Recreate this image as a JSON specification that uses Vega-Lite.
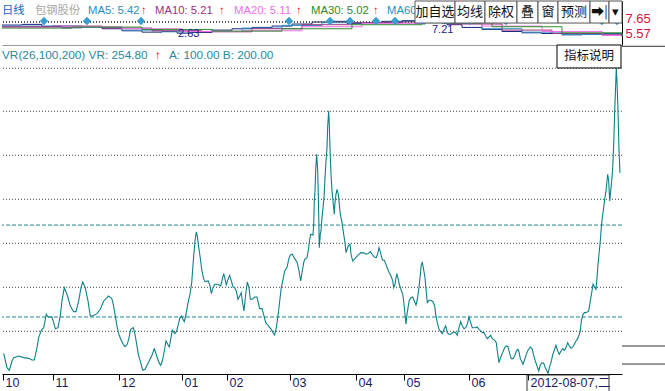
{
  "$schema": "https://vega.github.io/schema/vega-lite/v6.json",
  "padding": 0,
  "autosize": {"type": "pad"},
  "spacing": 0,
  "bounds": "flush",
  "background": "white",
  "config": {
    "view": {"stroke": null},
    "font": "Liberation Sans, Noto Sans CJK SC",
    "axis": {"labelFont": "Liberation Sans, Noto Sans CJK SC", "grid": false, "title": null}
  },
  "datasets": {
    "vr": [
      {"x":1.7,"y":60.9},{"x":5,"y":45.2},{"x":7.3,"y":42.3},{"x":10,"y":52.5},{"x":11.7,"y":56.2},{"x":16.7,"y":58.0},{"x":21.7,"y":56.2},{"x":26.7,"y":55.4},{"x":30,"y":53.6},{"x":32.3,"y":53.6},{"x":35,"y":67.1},{"x":36.7,"y":78.0},{"x":39.3,"y":86.0},{"x":41.7,"y":88.9},{"x":43.3,"y":98.0},{"x":44.3,"y":103.5},{"x":46,"y":100.6},{"x":50,"y":100.6},{"x":51.7,"y":94.4},{"x":53.3,"y":87.8},{"x":56,"y":88.9},{"x":58.3,"y":101.7},{"x":60,"y":118.1},{"x":62.3,"y":132.6},{"x":65,"y":125.4},{"x":68.3,"y":112.6},{"x":71.7,"y":106.4},{"x":74,"y":106.4},{"x":76.7,"y":118.1},{"x":79,"y":132.6},{"x":80.7,"y":138.8},{"x":83.3,"y":132.6},{"x":86,"y":118.1},{"x":88.3,"y":101.7},{"x":90.7,"y":101.7},{"x":95,"y":104.2},{"x":98.3,"y":109.0},{"x":101.7,"y":118.1},{"x":105,"y":121.7},
      {"x":106.3,"y":123.5},{"x":109.7,"y":121.0},{"x":111.3,"y":114.4},{"x":113,"y":103.5},{"x":114.7,"y":92.6},{"x":116.3,"y":83.5},{"x":118.7,"y":76.2},{"x":121.3,"y":70.7},{"x":123,"y":68.2},{"x":125.3,"y":70.7},{"x":127,"y":78.0},{"x":128.7,"y":87.1},{"x":131.3,"y":88.9},{"x":133,"y":81.7},{"x":134.7,"y":70.7},{"x":136.3,"y":59.8},{"x":138.7,"y":50.7},{"x":140.7,"y":42.3},{"x":143,"y":43.4},{"x":146.3,"y":50.7},{"x":149.7,"y":58.0},{"x":152.3,"y":66.0},{"x":154.7,"y":58.0},{"x":157,"y":50.7},{"x":158.7,"y":47.8},{"x":160.3,"y":52.5},{"x":162.3,"y":63.4},{"x":164,"y":74.4},{"x":165.7,"y":70.7},{"x":167.3,"y":67.8},{"x":169,"y":78.0},{"x":170.3,"y":86.0},{"x":173,"y":82.4},{"x":174.7,"y":85.3},{"x":176.3,"y":92.6},{"x":178,"y":99.9},{"x":179.7,"y":101.7},{"x":181.3,"y":97.0},{"x":182.3,"y":95.5},{"x":184,"y":103.5},{"x":185.7,"y":114.4},{"x":188,"y":125.4},{"x":189.7,"y":138.1},{"x":191.3,"y":161.8},{"x":193,"y":183.6},{"x":194.3,"y":193.5},{"x":195.3,"y":189.1},{"x":196.3,"y":180.0},{"x":198,"y":167.2},{"x":199.7,"y":152.7},{"x":201.3,"y":143.6},{"x":203,"y":139.2},{"x":206.3,"y":140.0},{"x":208,"y":134.5},
      {"x":209.3,"y":126.1},{"x":211,"y":132.6},{"x":212.7,"y":136.3},{"x":216,"y":136.3},{"x":218.7,"y":134.5},{"x":220.3,"y":141.7},{"x":221.7,"y":147.9},{"x":222.7,"y":143.6},{"x":224.3,"y":135.6},{"x":226,"y":141.7},{"x":227.7,"y":146.1},{"x":229.3,"y":140.0},{"x":231,"y":133.4},{"x":232.7,"y":132.6},{"x":234.3,"y":129.0},{"x":236,"y":119.9},{"x":237.7,"y":123.5},{"x":239.3,"y":127.2},{"x":240.3,"y":118.1},{"x":242,"y":107.1},{"x":243.7,"y":125.4},{"x":245.3,"y":138.8},{"x":247,"y":132.6},{"x":248.3,"y":119.9},{"x":250.3,"y":119.9},{"x":252.7,"y":122.4},{"x":255,"y":122.4},{"x":256.7,"y":114.4},{"x":257.7,"y":109.7},{"x":260,"y":109.7},{"x":262,"y":101.7},{"x":263.7,"y":94.4},{"x":265.3,"y":92.6},{"x":267.7,"y":88.9},{"x":269.3,"y":87.1},{"x":271,"y":83.5},{"x":272.7,"y":80.9},{"x":274.3,"y":88.9},{"x":276,"y":101.7},{"x":277.7,"y":118.1},{"x":279.3,"y":132.6},{"x":281,"y":141.7},{"x":282.7,"y":150.9},{"x":285,"y":154.5},{"x":286.7,"y":163.6},{"x":288.3,"y":168.3},{"x":290.3,"y":169.1},{"x":292.7,"y":164.3},{"x":295,"y":160.7},{"x":296.7,"y":152.7},{"x":298.7,"y":140.0},{"x":300.3,"y":150.9},{"x":301.7,"y":160.0},{"x":302.7,"y":163.6},{"x":305,"y":165.4},{"x":306.7,"y":176.3},{"x":307.7,"y":185.5},{"x":308.7,"y":190.9},{"x":311,"y":190.2},
      {"x":311.7,"y":201.8},{"x":312.3,"y":227.3},{"x":313,"y":238.3},{"x":313.7,"y":261.9},{"x":314.7,"y":278.3},{"x":315.7,"y":260.1},{"x":316.3,"y":234.6},{"x":317.3,"y":176.3},{"x":318.3,"y":190.9},{"x":319,"y":194.6},{"x":320,"y":209.1},{"x":321,"y":220.1},{"x":322,"y":231.0},{"x":323,"y":252.8},{"x":324,"y":271.0},{"x":325,"y":285.6},{"x":325.7,"y":309.3},{"x":326.7,"y":325.7},{"x":327.3,"y":311.1},{"x":328,"y":283.8},{"x":329,"y":256.5},{"x":330,"y":238.3},{"x":331.3,"y":223.7},{"x":332.3,"y":212.8},{"x":333,"y":225.5},{"x":334,"y":234.6},{"x":335,"y":240.1},{"x":336.3,"y":234.6},{"x":337.3,"y":223.7},{"x":338.3,"y":212.8},{"x":339.7,"y":205.5},{"x":340.7,"y":198.2},{"x":341.7,"y":190.9},{"x":343,"y":181.8},{"x":344,"y":170.9},{"x":345,"y":174.5},{"x":346.3,"y":178.2},{"x":348,"y":180.0},{"x":349,"y":169.1},{"x":350.7,"y":161.8},{"x":352.3,"y":163.6},{"x":355.7,"y":168.0},{"x":359,"y":170.9},{"x":362.3,"y":170.5},{"x":364,"y":169.1},{"x":366.3,"y":169.8},{"x":368.3,"y":172.0},{"x":370.7,"y":168.3},{"x":372.3,"y":166.1},{"x":374.3,"y":165.4},{"x":375.7,"y":169.8},{"x":377,"y":176.3},{"x":378.3,"y":172.0},{"x":379.7,"y":165.4},{"x":380.7,"y":162.5},{"x":382.3,"y":162.5},{"x":384,"y":158.1},{"x":385.7,"y":152.7},{"x":387.3,"y":149.0},{"x":389,"y":145.4},{"x":390.7,"y":140.0},{"x":391.7,"y":132.6},{"x":393,"y":136.3},{"x":394,"y":143.6},{"x":395,"y":147.2},{"x":396.3,"y":141.7},{"x":397.3,"y":136.3},{"x":399,"y":130.8},{"x":400.7,"y":125.4},{"x":401.7,"y":118.1},{"x":403,"y":103.5},{"x":404,"y":92.6},{"x":405,"y":103.5},{"x":406.3,"y":112.6},{"x":407.3,"y":118.8},{"x":409,"y":121.7},{"x":410.7,"y":122.4},{"x":412.3,"y":118.1},{"x":414,"y":113.7},
      {"x":415.3,"y":119.9},{"x":417,"y":132.6},{"x":418,"y":143.6},{"x":419.3,"y":158.1},{"x":420.3,"y":160.0},{"x":421.3,"y":154.5},{"x":423,"y":143.6},{"x":424,"y":130.8},{"x":425.3,"y":116.3},{"x":427,"y":118.8},{"x":428.7,"y":118.8},{"x":431,"y":117.3},{"x":432.7,"y":112.6},{"x":433.7,"y":103.5},{"x":435.3,"y":94.4},{"x":437,"y":87.1},{"x":438.7,"y":84.6},{"x":440.3,"y":82.4},{"x":442,"y":87.1},{"x":443.7,"y":90.8},{"x":445.3,"y":83.5},{"x":447,"y":81.7},{"x":448.7,"y":81.7},{"x":450.3,"y":83.1},{"x":452,"y":84.2},{"x":453.7,"y":83.5},{"x":455.3,"y":80.6},{"x":457,"y":88.9},{"x":458.7,"y":95.5},{"x":460.3,"y":90.8},{"x":462,"y":87.8},{"x":463.7,"y":88.9},{"x":465.3,"y":92.6},{"x":467,"y":100.6},{"x":468.7,"y":94.4},{"x":470.3,"y":88.9},{"x":472.7,"y":88.9},{"x":475.3,"y":89.7},{"x":477,"y":87.1},{"x":478.7,"y":85.3},{"x":480.3,"y":83.5},{"x":482,"y":83.5},{"x":483.7,"y":79.8},{"x":485.3,"y":76.9},{"x":487,"y":78.7},{"x":488.7,"y":80.6},{"x":490.3,"y":76.9},{"x":492.7,"y":75.1},{"x":494.3,"y":72.6},{"x":495.3,"y":63.4},{"x":497,"y":50.7},{"x":498,"y":54.3},{"x":499.3,"y":58.0},{"x":501,"y":62.7},{"x":502.7,"y":67.1},{"x":504.3,"y":68.9},{"x":506,"y":68.2},{"x":507.7,"y":60.5},{"x":509.3,"y":55.1},{"x":511,"y":55.1},{"x":512.7,"y":58.0},{"x":514.3,"y":63.4},{"x":516,"y":65.3},{"x":517,"y":62.7},
      {"x":518.3,"y":55.1},{"x":521,"y":48.9},{"x":522.7,"y":54.3},{"x":524.3,"y":59.8},{"x":526,"y":64.2},{"x":528.3,"y":67.8},{"x":530,"y":66.0},{"x":531.7,"y":58.7},{"x":533.3,"y":52.5},{"x":535,"y":47.1},{"x":536.7,"y":41.6},{"x":538.3,"y":48.1},{"x":540,"y":50.7},{"x":541.7,"y":50.0},{"x":543.3,"y":45.2},{"x":545,"y":41.6},{"x":546,"y":38.7},{"x":547.3,"y":45.2},{"x":549,"y":50.7},{"x":550.7,"y":59.1},{"x":552.3,"y":64.2},{"x":554,"y":69.6},{"x":555.7,"y":63.4},{"x":557.3,"y":59.8},{"x":559,"y":63.4},{"x":560.7,"y":66.0},{"x":562.3,"y":64.2},{"x":564,"y":67.1},{"x":565.7,"y":72.6},{"x":567.3,"y":68.9},{"x":569,"y":66.4},{"x":570.7,"y":67.8},{"x":572.3,"y":70.7},{"x":574,"y":74.4},{"x":575.7,"y":76.9},{"x":577.3,"y":81.7},{"x":578.3,"y":85.3},{"x":579.3,"y":96.2},{"x":580.7,"y":102.4},{"x":582.3,"y":105.3},{"x":584,"y":105.3},{"x":586.7,"y":107.1},{"x":588.3,"y":118.1},{"x":590,"y":129.0},{"x":591,"y":136.3},{"x":592.3,"y":133.7},{"x":594,"y":130.8},{"x":595,"y":143.6},{"x":596,"y":158.1},{"x":597.3,"y":172.7},{"x":598.3,"y":183.6},{"x":599.3,"y":198.2},{"x":600.3,"y":209.1},{"x":601.7,"y":220.1},{"x":602.7,"y":229.2},{"x":604,"y":238.3},{"x":605,"y":249.2},{"x":605.7,"y":256.5},{"x":606.7,"y":249.2},{"x":607.7,"y":227.3},{"x":608.7,"y":238.3},{"x":610,"y":252.8},{"x":610.7,"y":263.8},{"x":611.7,"y":289.2},{"x":612.7,"y":325.7},{"x":613.7,"y":354.8},{"x":614.3,"y":372.28},{"x":615,"y":358.4},{"x":616,"y":325.7},{"x":617,"y":282.0},{"x":618,"y":258.0}
    ],
    "grid": [{"y":372.28},{"y":325.30},{"y":277.22},{"y":229.15},{"y":181.08},{"y":133.00},{"y":84.93}],
    "lvl": [{"y":100.6},{"y":201.0}],
    "sep": [{"x":620,"x2":665,"y":68.9},{"x":620,"x2":665,"y":49.2},{"x":620,"x2":665,"y":396.3}],
    "vrhdr": [
      {"x":0,"y":386.8,"t":"VR(26,100,200) VR: 254.80","k":"vr"},
      {"x":153,"y":386.8,"t":"↑","k":"up"},
      {"x":167,"y":386.8,"t":"A: 100.00 B: 200.00","k":"vr"}
    ],
    "expl": [{"x":555,"x2":619,"y":397.7,"y2":372.6,"t":"指标说明"}],
    "datebox": [{"x":525,"x2":607,"y":37.2,"y2":17.5}],
    "px": [
      {"x":0,"y":6.75,"k":"k"},{"x":20,"y":6.85,"k":"k"},{"x":40,"y":6.55,"k":"k"},{"x":60,"y":6.35,"k":"k"},{"x":80,"y":6.45,"k":"k"},{"x":100,"y":6.2,"k":"k"},{"x":120,"y":5.9,"k":"k"},{"x":140,"y":5.7,"k":"k"},{"x":160,"y":5.8,"k":"k"},{"x":175,"y":5.55,"k":"k"},{"x":190,"y":5.65,"k":"k"},{"x":210,"y":6.0,"k":"k"},{"x":230,"y":6.2,"k":"k"},{"x":250,"y":6.4,"k":"k"},{"x":270,"y":6.6,"k":"k"},{"x":290,"y":6.9,"k":"k"},{"x":310,"y":7.2,"k":"k"},{"x":330,"y":7.3,"k":"k"},{"x":345,"y":7.0,"k":"k"},{"x":360,"y":7.1,"k":"k"},{"x":380,"y":7.3,"k":"k"},{"x":400,"y":7.4,"k":"k"},{"x":415,"y":7.6,"k":"k"},{"x":430,"y":7.2,"k":"k"},{"x":445,"y":6.8,"k":"k"},{"x":460,"y":6.4,"k":"k"},{"x":480,"y":6.1,"k":"k"},{"x":500,"y":5.8,"k":"k"},{"x":520,"y":5.6,"k":"k"},{"x":540,"y":5.5,"k":"k"},{"x":560,"y":5.3,"k":"k"},{"x":580,"y":5.4,"k":"k"},{"x":600,"y":5.5,"k":"k"},{"x":620,"y":5.45,"k":"k"},
      {"x":0,"y":6.6,"k":"ma5"},{"x":40,"y":6.6,"k":"ma5"},{"x":80,"y":6.4,"k":"ma5"},{"x":120,"y":6.0,"k":"ma5"},{"x":160,"y":5.75,"k":"ma5"},{"x":200,"y":5.8,"k":"ma5"},{"x":240,"y":6.3,"k":"ma5"},{"x":280,"y":6.7,"k":"ma5"},{"x":320,"y":7.1,"k":"ma5"},{"x":360,"y":7.1,"k":"ma5"},{"x":400,"y":7.3,"k":"ma5"},{"x":440,"y":7.0,"k":"ma5"},{"x":480,"y":6.2,"k":"ma5"},{"x":520,"y":5.7,"k":"ma5"},{"x":560,"y":5.35,"k":"ma5"},{"x":600,"y":5.42,"k":"ma5"},{"x":620,"y":5.42,"k":"ma5"},
      {"x":0,"y":6.5,"k":"ma10"},{"x":50,"y":6.6,"k":"ma10"},{"x":100,"y":6.3,"k":"ma10"},{"x":150,"y":5.9,"k":"ma10"},{"x":200,"y":5.75,"k":"ma10"},{"x":250,"y":6.2,"k":"ma10"},{"x":300,"y":6.8,"k":"ma10"},{"x":350,"y":7.1,"k":"ma10"},{"x":400,"y":7.2,"k":"ma10"},{"x":450,"y":6.9,"k":"ma10"},{"x":500,"y":6.0,"k":"ma10"},{"x":550,"y":5.5,"k":"ma10"},{"x":600,"y":5.3,"k":"ma10"},{"x":620,"y":5.21,"k":"ma10"},
      {"x":0,"y":6.4,"k":"ma20"},{"x":60,"y":6.5,"k":"ma20"},{"x":120,"y":6.2,"k":"ma20"},{"x":180,"y":5.8,"k":"ma20"},{"x":240,"y":5.9,"k":"ma20"},{"x":300,"y":6.5,"k":"ma20"},{"x":360,"y":7.0,"k":"ma20"},{"x":420,"y":7.2,"k":"ma20"},{"x":480,"y":6.6,"k":"ma20"},{"x":540,"y":5.8,"k":"ma20"},{"x":600,"y":5.2,"k":"ma20"},{"x":620,"y":5.11,"k":"ma20"},
      {"x":0,"y":6.3,"k":"ma30"},{"x":70,"y":6.45,"k":"ma30"},{"x":140,"y":6.1,"k":"ma30"},{"x":210,"y":5.85,"k":"ma30"},{"x":280,"y":6.2,"k":"ma30"},{"x":350,"y":6.8,"k":"ma30"},{"x":420,"y":7.1,"k":"ma30"},{"x":490,"y":6.5,"k":"ma30"},{"x":560,"y":5.6,"k":"ma30"},{"x":620,"y":5.02,"k":"ma30"}
    ],
    "dia": [{"x":42,"y":7.35},{"x":85,"y":7.35},{"x":139,"y":7.35},{"x":287,"y":7.35},{"x":328,"y":7.35},{"x":348,"y":7.35},{"x":374,"y":7.35},{"x":393,"y":7.35},{"x":422,"y":7.35},{"x":468,"y":7.35},{"x":504,"y":7.35},{"x":600,"y":7.35},{"x":615,"y":7.35}],
    "mark": [{"x":176,"y":5.35,"t":"2.63"},{"x":430,"y":6.0,"t":"7.21"}],
    "hdr": [
      {"x":0,"y":8.83,"t":"日线","k":"day"},
      {"x":33,"y":8.83,"t":"包钢股份","k":"name"},
      {"x":86,"y":8.83,"t":"MA5: 5.42","k":"ma5"},
      {"x":139,"y":8.83,"t":"↑","k":"up"},
      {"x":153,"y":8.83,"t":"MA10: 5.21","k":"ma10"},
      {"x":217,"y":8.83,"t":"↑","k":"up"},
      {"x":232,"y":8.83,"t":"MA20: 5.11","k":"ma20"},
      {"x":294,"y":8.83,"t":"↑","k":"up"},
      {"x":309,"y":8.83,"t":"MA30: 5.02","k":"ma30"},
      {"x":371,"y":8.83,"t":"↑","k":"up"},
      {"x":385,"y":8.83,"t":"MA60","k":"ma5"}
    ],
    "btn": [
      {"x":413,"x2":453,"t":"加自选"},
      {"x":453,"x2":483,"t":"均线"},
      {"x":483,"x2":515,"t":"除权"},
      {"x":515,"x2":536,"t":"叠"},
      {"x":536,"x2":556,"t":"窗"},
      {"x":556,"x2":588,"t":"预测"},
      {"x":588,"x2":607,"t":"➡|"},
      {"x":607,"x2":620,"t":"▾"}
    ]
  },
  "vconcat": [
    {
      "width": 620,
      "height": 44,
      "layer": [
        {
          "data": {"name": "px"},
          "mark": {"type": "line", "strokeWidth": 1, "interpolate": "step-after"},
          "encoding": {
            "x": {"field": "x", "type": "quantitative", "scale": {"domain": [0, 620]}, "axis": {"orient": "bottom", "labels": false, "ticks": false, "domainColor": "#9a9a9a", "title": null}},
            "y": {"field": "y", "type": "quantitative", "scale": {"domain": [3.79, 10.32], "zero": false, "nice": false}, "axis": {"orient": "right", "values": [7.65, 5.57], "format": ".2f", "ticks": false, "labelPadding": 3, "labelColor": "#d4143c", "labelFontSize": 13, "domainColor": "#000", "title": null}},
            "color": {"field": "k", "type": "nominal", "legend": null, "scale": {"domain": ["k","ma5","ma10","ma20","ma30","day","name","up","vr"], "range": ["#1a237e","#2a8fbf","#a0307f","#f070e8","#2e8b2e","#1565c0","#a8a8a8","#ff0000","#2a8a9c"]}}
          }
        },
        {
          "data": {"name": "dia"},
          "mark": {"type": "rule", "color": "#555", "strokeDash": [1, 2]},
          "encoding": {
            "y": {"datum": 7.2, "type": "quantitative", "scale": {"domain": [3.79, 10.32], "zero": false, "nice": false}}
          }
        },
        {
          "data": {"name": "dia"},
          "mark": {"type": "point", "shape": "diamond", "filled": true, "size": 70, "color": "#3a9fd0", "opacity": 1},
          "encoding": {
            "x": {"field": "x", "type": "quantitative", "scale": {"domain": [0, 620]}},
            "y": {"field": "y", "type": "quantitative", "scale": {"domain": [3.79, 10.32], "zero": false, "nice": false}}
          }
        },
        {
          "data": {"name": "mark"},
          "mark": {"type": "text", "align": "left", "baseline": "middle", "fontSize": 11, "color": "#1a237e"},
          "encoding": {
            "x": {"field": "x", "type": "quantitative", "scale": {"domain": [0, 620]}},
            "y": {"field": "y", "type": "quantitative", "scale": {"domain": [3.79, 10.32], "zero": false, "nice": false}},
            "text": {"field": "t"}
          }
        },
        {
          "data": {"name": "hdr"},
          "mark": {"type": "text", "align": "left", "baseline": "middle", "fontSize": 11.3, "font": "Liberation Sans, Noto Sans CJK SC"},
          "encoding": {
            "x": {"field": "x", "type": "quantitative", "scale": {"domain": [0, 620]}},
            "y": {"field": "y", "type": "quantitative", "scale": {"domain": [3.79, 10.32], "zero": false, "nice": false}},
            "text": {"field": "t"},
            "color": {"field": "k", "type": "nominal", "legend": null, "scale": {"domain": ["k","ma5","ma10","ma20","ma30","day","name","up","vr"], "range": ["#1a237e","#2a8fbf","#a0307f","#f070e8","#2e8b2e","#1565c0","#a8a8a8","#ff0000","#2a8a9c"]}},
            "fontWeight": {"condition": {"test": "datum.k === 'up'", "value": "bold"}, "value": "normal"}
          }
        },
        {
          "data": {"name": "btn"},
          "mark": {"type": "rect", "fill": "white", "stroke": "#555", "strokeWidth": 1},
          "encoding": {
            "x": {"field": "x", "type": "quantitative", "scale": {"domain": [0, 620]}},
            "x2": {"field": "x2"},
            "y": {"datum": 10.32, "type": "quantitative", "scale": {"domain": [3.79, 10.32], "zero": false, "nice": false}},
            "y2": {"datum": 7.05}
          }
        },
        {
          "data": {"name": "btn"},
          "transform": [{"calculate": "(datum.x + datum.x2) / 2", "as": "xm"}],
          "mark": {"type": "text", "align": "center", "baseline": "middle", "fontSize": 13, "color": "#111", "font": "Noto Sans CJK SC"},
          "encoding": {
            "x": {"field": "xm", "type": "quantitative", "scale": {"domain": [0, 620]}},
            "y": {"datum": 8.7, "type": "quantitative", "scale": {"domain": [3.79, 10.32], "zero": false, "nice": false}},
            "text": {"field": "t"}
          }
        }
      ]
    },
    {
      "width": 620,
      "height": 329,
      "layer": [
        {
          "data": {"name": "grid"},
          "mark": {"type": "rule", "color": "#444", "strokeDash": [1, 2], "strokeWidth": 1},
          "encoding": {
            "y": {"field": "y", "type": "quantitative", "scale": {"domain": [38.3, 397.7], "zero": false, "nice": false}, "axis": null}
          }
        },
        {
          "data": {"name": "lvl"},
          "mark": {"type": "rule", "color": "#1f8a8f", "strokeDash": [4, 2], "strokeWidth": 1},
          "encoding": {
            "y": {"field": "y", "type": "quantitative", "scale": {"domain": [38.3, 397.7], "zero": false, "nice": false}, "axis": null}
          }
        },
        {
          "data": {"name": "sep"},
          "mark": {"type": "rule", "color": "#333", "strokeWidth": 1},
          "encoding": {
            "x": {"field": "x", "type": "quantitative", "scale": {"domain": [0, 620]}},
            "x2": {"field": "x2"},
            "y": {"field": "y", "type": "quantitative", "scale": {"domain": [38.3, 397.7], "zero": false, "nice": false}}
          }
        },
        {
          "data": {"name": "vr"},
          "mark": {"type": "line", "color": "#0e8088", "strokeWidth": 1.1},
          "encoding": {
            "x": {"field": "x", "type": "quantitative", "scale": {"domain": [0, 620]},
              "axis": {"orient": "bottom", "values": [1, 51, 117, 180, 225, 288, 354, 402, 467, 526], "labelExpr": "datum.value==1?'10':datum.value==51?'11':datum.value==117?'12':datum.value==180?'01':datum.value==225?'02':datum.value==288?'03':datum.value==354?'04':datum.value==402?'05':datum.value==467?'06':'2012-08-07,二'", "labelAlign": "left", "labelBaseline": "top", "labelOffset": 2, "labelPadding": -4, "tickSize": 6, "tickColor": "#000", "domainColor": "#000", "labelColor": "#1a1a5e", "labelFontSize": 12.5, "labelFlush": false, "labelOverlap": false, "title": null}},
            "y": {"field": "y", "type": "quantitative", "scale": {"domain": [38.3, 397.7], "zero": false, "nice": false},
              "axis": {"orient": "right", "values": [372.28, 325.30, 277.22, 229.15, 181.08, 133.00, 84.93, 58.71], "format": ".2f", "ticks": false, "labelPadding": 3, "labelColor": "#d4143c", "labelFontSize": 13, "domainColor": "#000", "title": null}}
          }
        },
        {
          "data": {"name": "vrhdr"},
          "mark": {"type": "text", "align": "left", "baseline": "middle", "fontSize": 11.8},
          "encoding": {
            "x": {"field": "x", "type": "quantitative", "scale": {"domain": [0, 620]}},
            "y": {"field": "y", "type": "quantitative", "scale": {"domain": [38.3, 397.7], "zero": false, "nice": false}},
            "text": {"field": "t"},
            "color": {"field": "k", "type": "nominal", "legend": null, "scale": {"domain": ["vr", "up"], "range": ["#2a8a9c", "#ff0000"]}},
            "fontWeight": {"condition": {"test": "datum.k === 'up'", "value": "bold"}, "value": "normal"}
          }
        },
        {
          "data": {"name": "expl"},
          "mark": {"type": "rect", "fill": "white", "stroke": "#000", "strokeWidth": 1},
          "encoding": {
            "x": {"field": "x", "type": "quantitative", "scale": {"domain": [0, 620]}},
            "x2": {"field": "x2"},
            "y": {"field": "y", "type": "quantitative", "scale": {"domain": [38.3, 397.7], "zero": false, "nice": false}},
            "y2": {"field": "y2"}
          }
        },
        {
          "data": {"name": "expl"},
          "transform": [{"calculate": "(datum.x + datum.x2) / 2", "as": "xm"}, {"calculate": "(datum.y + datum.y2) / 2", "as": "ym"}],
          "mark": {"type": "text", "align": "center", "baseline": "middle", "fontSize": 12.5, "color": "#111", "font": "Noto Sans CJK SC"},
          "encoding": {
            "x": {"field": "xm", "type": "quantitative", "scale": {"domain": [0, 620]}},
            "y": {"field": "ym", "type": "quantitative", "scale": {"domain": [38.3, 397.7], "zero": false, "nice": false}},
            "text": {"field": "t"}
          }
        },
        {
          "data": {"name": "datebox"},
          "mark": {"type": "rect", "fill": null, "fillOpacity": 0, "stroke": "#333", "strokeWidth": 1},
          "encoding": {
            "x": {"field": "x", "type": "quantitative", "scale": {"domain": [0, 620]}},
            "x2": {"field": "x2"},
            "y": {"field": "y", "type": "quantitative", "scale": {"domain": [38.3, 397.7], "zero": false, "nice": false}},
            "y2": {"field": "y2"}
          }
        }
      ]
    }
  ]
}
